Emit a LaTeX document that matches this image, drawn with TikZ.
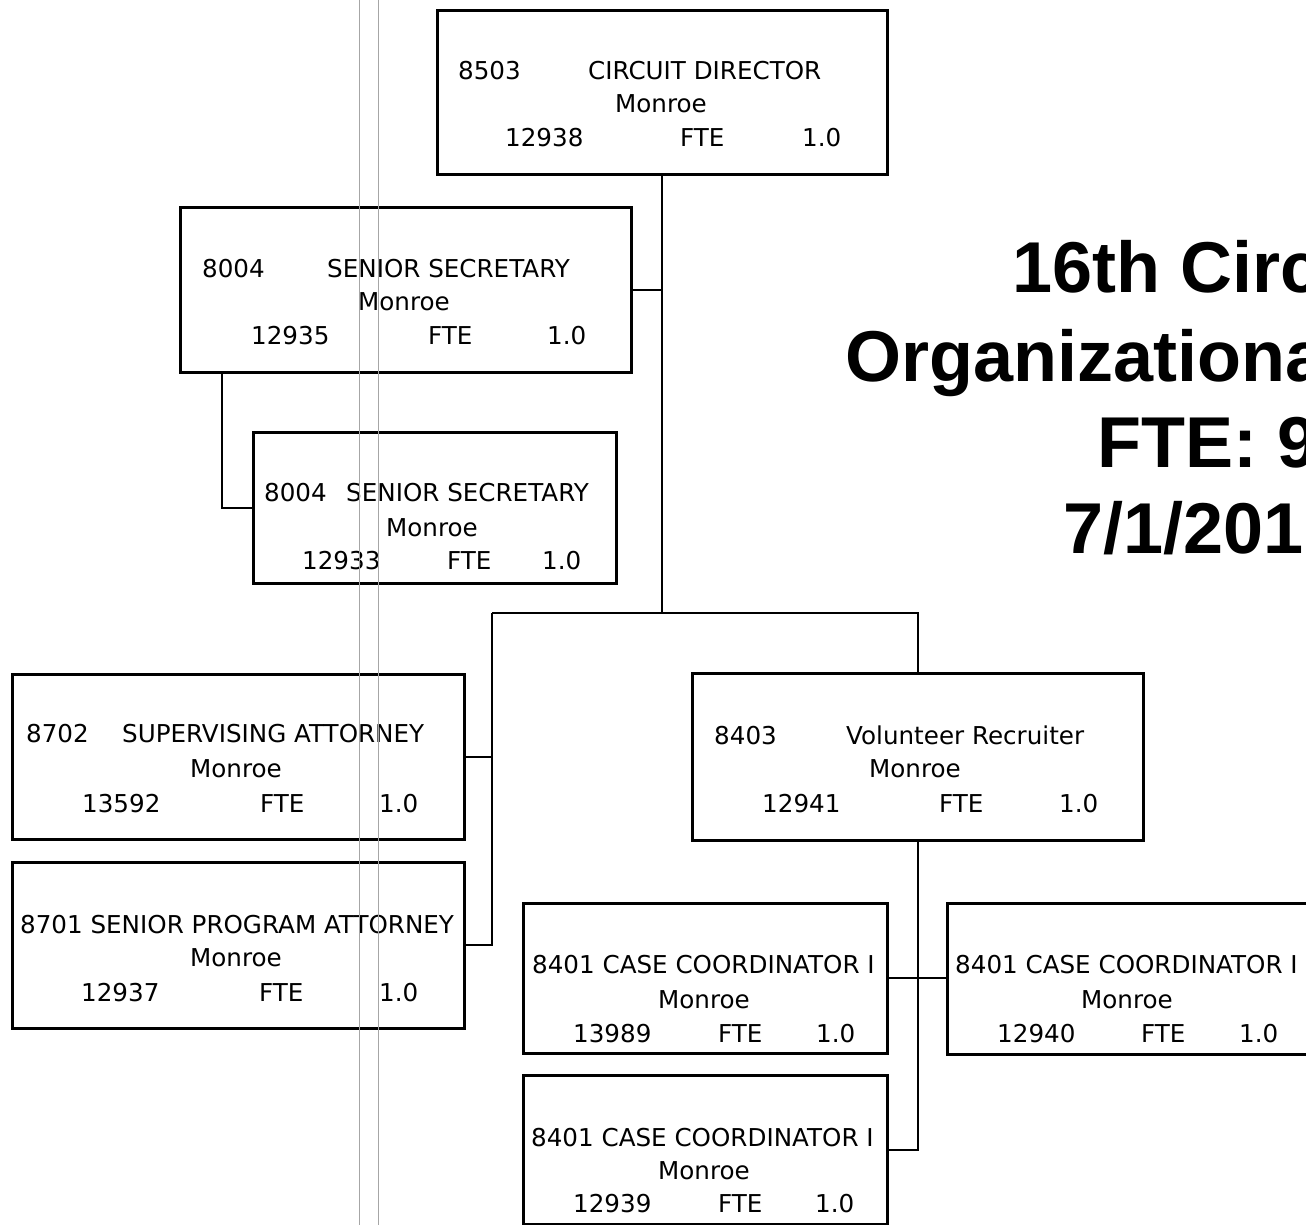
\documentclass[tikz,border=0pt]{standalone}
\usepackage{fontspec}
\setmainfont{DejaVu Sans}
\newfontfamily\titlefont{Liberation Sans}
\usepackage{tikz}
\usetikzlibrary{calc}

\begin{document}
\begin{tikzpicture}[
    x=1pt, y=-1pt,
    posbox/.style={draw, line width=2.6pt, anchor=north west, inner sep=0pt},
    lbl/.style={font=\fontsize{24.6}{28}\selectfont, inner sep=0pt, anchor=base west},
    mid/.style={lbl, anchor=base},
    title/.style={font=\titlefont\bfseries\fontsize{72}{80}\selectfont, inner sep=0pt, anchor=base west},
    link/.style={line width=2pt},
    guide/.style={gray!70, line width=1pt}
  ]
  \useasboundingbox (0,0) rectangle (1306,1225);
  \clip (0,0) rectangle (1306,1225);

  % positions
  \node[posbox, minimum width=450pt, minimum height=164pt] (dir) at (436,9) {};
  \node[posbox, minimum width=451pt, minimum height=165pt] (sec1) at (179,206) {};
  \node[posbox, minimum width=363pt, minimum height=151pt] (sec2) at (252,431) {};
  \node[posbox, minimum width=452pt, minimum height=165pt] (sup) at (11,673) {};
  \node[posbox, minimum width=452pt, minimum height=166pt] (spa) at (11,861) {};
  \node[posbox, minimum width=451pt, minimum height=167pt] (vol) at (691,672) {};
  \node[posbox, minimum width=364pt, minimum height=150pt] (cc1) at (522,902) {};
  \node[posbox, minimum width=364pt, minimum height=151pt] (cc2) at (946,902) {};
  \node[posbox, minimum width=364pt, minimum height=149pt] (cc3) at (522,1074) {};

  % texts
  \node[lbl] (dir-a) at (458,80) {8503};
  \node[lbl] (dir-b) at (588,80) {CIRCUIT DIRECTOR};
  \node[mid] (dir-c) at (661,113) {Monroe};
  \node[lbl] (dir-d) at (505,147) {12938};
  \node[lbl] (dir-e) at (680,147) {FTE};
  \node[lbl] (dir-f) at (802,147) {1.0};

  \node[lbl] (sec1-a) at (202,277) {8004};
  \node[lbl] (sec1-b) at (327,277) {SENIOR SECRETARY};
  \node[mid] (sec1-c) at (404,310) {Monroe};
  \node[lbl] (sec1-d) at (251,344) {12935};
  \node[lbl] (sec1-e) at (428,344) {FTE};
  \node[lbl] (sec1-f) at (547,344) {1.0};

  \node[lbl] (sec2-a) at (264,501) {8004};
  \node[lbl] (sec2-b) at (346,501) {SENIOR SECRETARY};
  \node[mid] (sec2-c) at (432,536) {Monroe};
  \node[lbl] (sec2-d) at (302,569) {12933};
  \node[lbl] (sec2-e) at (447,569) {FTE};
  \node[lbl] (sec2-f) at (542,569) {1.0};

  \node[lbl] (sup-a) at (26,742) {8702};
  \node[lbl] (sup-b) at (122,742) {SUPERVISING ATTORNEY};
  \node[mid] (sup-c) at (236,777) {Monroe};
  \node[lbl] (sup-d) at (82,812) {13592};
  \node[lbl] (sup-e) at (260,812) {FTE};
  \node[lbl] (sup-f) at (379,812) {1.0};

  \node[lbl] (spa-a) at (20,933) {8701 SENIOR PROGRAM ATTORNEY};
  \node[mid] (spa-c) at (236,966) {Monroe};
  \node[lbl] (spa-d) at (81,1001) {12937};
  \node[lbl] (spa-e) at (259,1001) {FTE};
  \node[lbl] (spa-f) at (379,1001) {1.0};

  \node[lbl] (vol-a) at (714,744) {8403};
  \node[lbl] (vol-b) at (846,744) {Volunteer Recruiter};
  \node[mid] (vol-c) at (915,777) {Monroe};
  \node[lbl] (vol-d) at (762,812) {12941};
  \node[lbl] (vol-e) at (939,812) {FTE};
  \node[lbl] (vol-f) at (1059,812) {1.0};

  \node[lbl] (cc1-a) at (532,973) {8401 CASE COORDINATOR I};
  \node[mid] (cc1-c) at (704,1008) {Monroe};
  \node[lbl] (cc1-d) at (573,1042) {13989};
  \node[lbl] (cc1-e) at (718,1042) {FTE};
  \node[lbl] (cc1-f) at (816,1042) {1.0};

  \node[lbl] (cc2-a) at (955,973) {8401 CASE COORDINATOR I};
  \node[mid] (cc2-c) at (1127,1008) {Monroe};
  \node[lbl] (cc2-d) at (997,1042) {12940};
  \node[lbl] (cc2-e) at (1141,1042) {FTE};
  \node[lbl] (cc2-f) at (1239,1042) {1.0};

  \node[lbl] (cc3-a) at (531,1146) {8401 CASE COORDINATOR I};
  \node[mid] (cc3-c) at (704,1179) {Monroe};
  \node[lbl] (cc3-d) at (573,1212) {12939};
  \node[lbl] (cc3-e) at (718,1212) {FTE};
  \node[lbl] (cc3-f) at (815,1212) {1.0};

  % title
  \node[title] (t1) at (1012,292) {16th Circ};
  \node[title] (t2) at (845,381) {Organizationa};
  \node[title] (t3) at (1097,467) {FTE: 9};
  \node[title] (t4) at (1063,553) {7/1/201};

  % connectors
  \coordinate (jleft) at (492,613);
  \coordinate (jmid) at (dir.south |- jleft);
  \coordinate (jright) at (vol.north |- jleft);
  \draw[link] (dir.south) -- (jmid);
  \draw[link] (sec1.east) -- (sec1.east -| dir.south);
  \draw[link] ($(sec1.south west)+(43,0)$) |- (sec2.west);
  \draw[link] (jleft) -- (jright) -- (vol.north);
  \draw[link] (jleft) |- (spa.east);
  \draw[link] (sup.east) -- (sup.east -| jleft);
  \draw[link] (vol.south) |- (cc3.east);
  \draw[link] (cc1.east) -- (cc1.east -| cc2.west);

  % scan guides
  \draw[guide] (359,0) -- (359,1225);
  \draw[guide] (378,0) -- (378,1225);
\end{tikzpicture}
\end{document}
